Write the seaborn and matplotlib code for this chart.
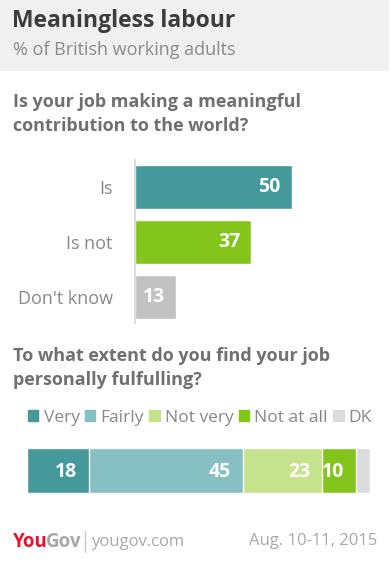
import matplotlib
matplotlib.use('Agg')
import matplotlib.pyplot as plt
import seaborn as sns
import pandas as pd
from matplotlib.patches import Patch, Rectangle
from matplotlib.lines import Line2D

# ── DATA ─────────────────────────────────────────────────────────────────────
q1_categories = ["Is", "Is not", "Don't know"]
q1_values     = [50, 37, 13]
q1_colors     = ["#45999b", "#84c51b", "#c2c2c2"]

q2_categories = ["Very", "Fairly", "Not very", "Not at all", "DK"]
q2_values     = [18, 45, 23, 10, 4]
q2_colors     = ["#45999b", "#86c0c2", "#c5e38c", "#84c51b", "#dcdcdc"]
# ─────────────────────────────────────────────────────────────────────────────

W, H = 390, 577
FONT = "Open Sans"
GREY_TXT = "#888888"

sns.set_theme(style="white")
plt.rcParams['font.family'] = [FONT, 'DejaVu Sans']

fig = plt.figure(figsize=(W / 100, H / 100), dpi=100)
fig.patch.set_facecolor("white")


def px_axes(x0, y0, x1, y1):
    # axes placed by pixel box (top-left origin)
    return fig.add_axes([x0 / W, 1 - y1 / H, (x1 - x0) / W, (y1 - y0) / H])


def ftext(x, y, s, **kw):
    return fig.text(x / W, 1 - y / H, s, **kw)


# header band
fig.patches.append(Rectangle((0, 1 - 70 / H), 388 / W, 70 / H,
                             transform=fig.transFigure, color="#f0f0f0", zorder=0))
ftext(12, 21, "Meaningless labour", fontsize=16.5, fontweight="bold",
      color="#3c3c3c", va="center")
ftext(13, 50, "% of British working adults", fontsize=13, color="#8a8a8a",
      va="center")

# ── question 1 ───────────────────────────────────────────────────────────────
ftext(13, 102, "Is your job making a meaningful", fontsize=13, fontweight="bold",
      color="#707070", va="center")
ftext(13, 126, "contribution to the world?", fontsize=13, fontweight="bold",
      color="#707070", va="center")

df1 = pd.DataFrame({"cat": q1_categories, "val": q1_values})
ax1 = px_axes(135, 160, 375, 323)
sns.barplot(data=df1, x="val", y="cat", hue="cat", palette=q1_colors,
            orient="h", width=0.8, legend=False, saturation=1, ax=ax1)
ax1.set_xlim(0, 240 / 3.14)
ax1.set_ylim(2.47, -0.49)
ax1.set_xlabel("")
ax1.set_ylabel("")
ax1.set_xticks([])
for s in ["top", "right", "bottom"]:
    ax1.spines[s].set_visible(False)
ax1.spines["left"].set_color("#d4d4d4")
ax1.spines["left"].set_linewidth(1.2)
ax1.tick_params(axis="y", length=0, pad=16, labelsize=13, labelcolor=GREY_TXT)
for i, v in enumerate(q1_values):
    ax1.annotate(str(v), (v, i), xytext=(-8, 0), textcoords="offset points",
                 ha="right", va="center", color="white", fontsize=14,
                 fontweight="bold")

# ── question 2 ───────────────────────────────────────────────────────────────
ftext(13, 356, "To what extent do you find your job", fontsize=13,
      fontweight="bold", color="#707070", va="center")
ftext(13, 380, "personally fulfulling?", fontsize=13, fontweight="bold",
      color="#707070", va="center")

handles = [Patch(color=c, label=l) for l, c in zip(q2_categories, q2_colors)]
leg = fig.legend(handles=handles, loc="center left", ncol=5,
                 bbox_to_anchor=(28 / W, 1 - 418 / H), frameon=False,
                 fontsize=12.5, handlelength=0.6, handleheight=0.6,
                 handletextpad=0.3, columnspacing=0.3, borderaxespad=0,
                 borderpad=0)
for t in leg.get_texts():
    t.set_color(GREY_TXT)

# stacked bar: draw cumulative totals from the largest down
cum = []
total = 0
for v in q2_values:
    total += v
    cum.append(total)
ax2 = px_axes(27, 448, 370, 493)
for c, col in reversed(list(zip(cum, q2_colors))):
    sns.barplot(x=[c], y=["all"], orient="h", color=col, width=1,
                saturation=1, ax=ax2)
ax2.set_xlim(0, sum(q2_values))
ax2.set_ylim(0.5, -0.5)
ax2.set_axis_off()
for c, v in zip(cum, q2_values):
    if v < 5:
        continue
    ax2.annotate(str(v), (c, 0), xytext=(-8.5, -1), textcoords="offset points",
                 ha="right", va="center", color="white", fontsize=14,
                 fontweight="bold")

# ── footer ───────────────────────────────────────────────────────────────────
t_you = ftext(13, 542, "You", fontsize=13.5, fontweight="bold", color="#e8112d",
              va="center")
fig.canvas.draw()
bb = t_you.get_window_extent()
ftext(bb.x1 - 2, 542, "Gov", fontsize=13.5, fontweight="bold", color="#a8a8a8",
      va="center")
fig.lines.append(Line2D([85 / W, 85 / W], [1 - 531 / H, 1 - 552 / H],
                        transform=fig.transFigure, color="#c8c8c8", lw=1))
ftext(91, 542, "yougov.com", fontsize=12, color="#a8a8a8", va="center")
ftext(377, 541, "Aug. 10-11, 2015", fontsize=12, color="#a8a8a8", va="center",
      ha="right")

fig.savefig("out.png", dpi=100, facecolor="white")
